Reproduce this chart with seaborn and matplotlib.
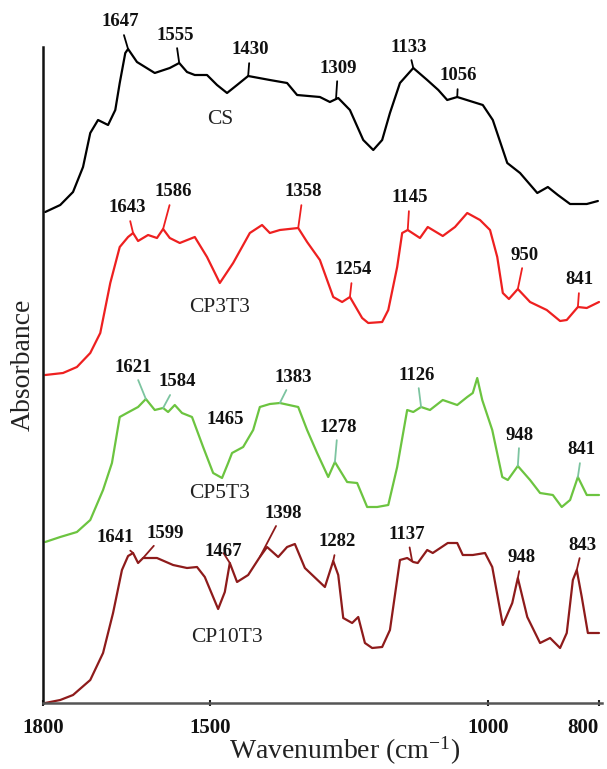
import numpy as np
import pandas as pd
import matplotlib
matplotlib.use("Agg")
import matplotlib.pyplot as plt
import seaborn as sns

# ---------------- data ----------------
samples = ["CS", "CP3T3", "CP5T3", "CP10T3"]

cs_wn = [1796, 1769, 1746, 1728, 1715, 1701, 1683, 1670, 1662, 1652, 1647, 1631, 1599, 1572, 1555,
         1541, 1527, 1505, 1487, 1469, 1451, 1431, 1392, 1361, 1343, 1302, 1284, 1269, 1248, 1224,
         1206, 1190, 1176, 1158, 1134, 1109, 1089, 1073, 1055, 1009, 991, 965, 942, 911, 892,
         874, 852, 822, 802]
cs_abs = [0.01, 0.08, 0.21, 0.46, 0.80, 0.93, 0.88, 1.03, 1.30, 1.60, 1.64, 1.51, 1.40, 1.45, 1.50,
          1.41, 1.38, 1.38, 1.28, 1.20, 1.28, 1.37, 1.33, 1.30, 1.18, 1.16, 1.11, 1.15, 1.03, 0.73,
          0.63, 0.73, 1.00, 1.30, 1.45, 1.33, 1.23, 1.13, 1.16, 1.08, 0.93, 0.50, 0.40, 0.20, 0.26,
          0.18, 0.09, 0.09, 0.12]

cp3_wn = [1796, 1764, 1739, 1715, 1697, 1679, 1662, 1647, 1638, 1629, 1611, 1595, 1584, 1572, 1554,
          1527, 1505, 1482, 1458, 1428, 1406, 1392, 1374, 1341, 1325, 1302, 1278, 1262, 1248, 1226,
          1215, 1190, 1179, 1163, 1154, 1144, 1122, 1108, 1081, 1059, 1037, 1014, 996, 983, 973,
          962, 946, 924, 894, 870, 858, 838, 822, 800]
cp3_abs = [0.03, 0.05, 0.11, 0.25, 0.45, 0.95, 1.31, 1.41, 1.45, 1.37, 1.43, 1.40, 1.49, 1.40, 1.35,
           1.41, 1.21, 0.95, 1.15, 1.45, 1.53, 1.45, 1.48, 1.50, 1.36, 1.18, 0.81, 0.76, 0.81, 0.60,
           0.55, 0.56, 0.68, 1.11, 1.45, 1.48, 1.40, 1.51, 1.42, 1.51, 1.65, 1.58, 1.48, 1.21, 0.85,
           0.79, 0.89, 0.76, 0.68, 0.57, 0.58, 0.71, 0.70, 0.76]

cp5_wn = [1796, 1769, 1739, 1715, 1692, 1676, 1662, 1649, 1629, 1615, 1599, 1584, 1575, 1563, 1550,
          1532, 1512, 1494, 1478, 1467, 1460, 1440, 1422, 1410, 1392, 1374, 1341, 1325, 1307, 1287,
          1275, 1253, 1235, 1217, 1199, 1179, 1163, 1145, 1134, 1120, 1104, 1081, 1055, 1037, 1027,
          1019, 1010, 992, 974, 964, 946, 924, 906, 883, 867, 852, 838, 822, 800]
cp5_abs = [0.01, 0.06, 0.11, 0.23, 0.53, 0.80, 1.26, 1.30, 1.36, 1.44, 1.33, 1.35, 1.31, 1.38, 1.30,
           1.26, 0.96, 0.70, 0.65, 0.80, 0.90, 0.96, 1.13, 1.36, 1.39, 1.40, 1.36, 1.13, 0.90, 0.66,
           0.81, 0.61, 0.60, 0.36, 0.36, 0.38, 0.76, 1.33, 1.31, 1.36, 1.33, 1.43, 1.38, 1.46, 1.50,
           1.65, 1.43, 1.13, 0.66, 0.63, 0.77, 0.63, 0.50, 0.48, 0.36, 0.43, 0.66, 0.48, 0.48]

cp10_wn = [1796, 1769, 1746, 1715, 1692, 1674, 1658, 1647, 1638, 1629, 1620, 1595, 1566, 1541, 1523,
           1509, 1485, 1473, 1464, 1451, 1431, 1410, 1397, 1377, 1361, 1347, 1329, 1293, 1278, 1269,
           1260, 1244, 1233, 1221, 1208, 1190, 1176, 1158, 1145, 1134, 1126, 1109, 1099, 1072, 1055,
           1045, 1027, 1005, 992, 973, 956, 946, 929, 906, 888, 870, 858, 847, 840, 831,
           820, 800]
cp10_abs = [0.00, 0.03, 0.08, 0.23, 0.50, 0.90, 1.33, 1.47, 1.50, 1.40, 1.45, 1.45, 1.38, 1.35, 1.36,
            1.26, 0.94, 1.11, 1.40, 1.21, 1.28, 1.46, 1.56, 1.46, 1.56, 1.59, 1.35, 1.16, 1.42, 1.28,
            0.85, 0.80, 0.86, 0.60, 0.55, 0.56, 0.73, 1.43, 1.45, 1.41, 1.40, 1.53, 1.50, 1.60, 1.60,
            1.48, 1.48, 1.50, 1.36, 0.78, 1.00, 1.25, 0.86, 0.60, 0.65, 0.55, 0.70, 1.23, 1.33, 1.06,
            0.70, 0.70]

# peak labels and the wavenumber where their leader touches the curve
cs_peak_labels = ["1647", "1555", "1430", "1309", "1133", "1056"]
cs_peak_wn = [1647, 1555, 1431, 1273, 1134, 1055]
cp3_peak_labels = ["1643", "1586", "1358", "1254", "1145", "950", "841"]
cp3_peak_wn = [1638, 1584, 1341, 1248, 1144, 946, 838]
cp5_peak_labels = ["1621", "1584", "1465", "1383", "1278", "1126", "948", "841"]
cp5_peak_wn = [1615, 1584, 1467, 1374, 1275, 1120, 946, 838]
cp10_peak_labels = ["1641", "1599", "1467", "1398", "1282", "1137", "948", "843"]
cp10_peak_wn = [1638, 1620, 1464, 1410, 1278, 1136, 946, 840]

xtick_values = [1800, 1500, 1000, 800]

# ---------------- layout / style ----------------
offsets = {"CS": 4.9, "CP3T3": 3.25, "CP5T3": 1.6, "CP10T3": 0.0}
line_colors = {"CS": "#000000", "CP3T3": "#ee2020", "CP5T3": "#6cc440", "CP10T3": "#8e1b1b"}
leader_colors = {"CS": "#000000", "CP3T3": "#ee2020", "CP5T3": "#7cc4a0", "CP10T3": "#8e1b1b"}
# text offsets (pixels) of each peak label from its anchor on the curve
label_offsets = {
    "CS": [(-8, 27), (-4, 28), (2, 26), (2, 31), (-5, 21), (1, 21)],
    "CP3T3": [(-6, 25), (10, 37), (5, 36), (3, 27), (2, 32), (7, 34), (2, 27)],
    "CP5T3": [(-13, 32), (14, 26), (-3, 43), (13, 26), (3, 35), (-4, 32), (2, 31), (4, 27)],
    "CP10T3": [(-18, 15), (22, 25), (-7, 11), (23, 44), (4, 19), (-5, 27), (4, 20), (6, 25)],
}
no_leader = {("CP5T3", "1465")}
name_pos = {"CS": (1482, 5.83), "CP3T3": (1482, 3.95), "CP5T3": (1482, 2.10), "CP10T3": (1469, 0.65)}

curves = {
    "CS": (cs_wn, cs_abs, cs_peak_labels, cs_peak_wn),
    "CP3T3": (cp3_wn, cp3_abs, cp3_peak_labels, cp3_peak_wn),
    "CP5T3": (cp5_wn, cp5_abs, cp5_peak_labels, cp5_peak_wn),
    "CP10T3": (cp10_wn, cp10_abs, cp10_peak_labels, cp10_peak_wn),
}

rows = []
for s in samples:
    wn, ab, _, _ = curves[s]
    for w, a in zip(wn, ab):
        rows.append({"sample": s, "wavenumber": w, "absorbance": a, "shifted": a + offsets[s]})
df = pd.DataFrame(rows)

sns.set_theme(style="white")
plt.rcParams["font.family"] = ["Liberation Serif", "DejaVu Serif"]
plt.rcParams["mathtext.default"] = "regular"

fig = plt.figure(figsize=(6.07, 7.69), dpi=100)
W, H = 607, 769
ax = fig.add_axes([43 / W, (H - 703) / H, (602 - 43) / W, (703 - 47) / H])

sns.lineplot(data=df, x="wavenumber", y="shifted", hue="sample", palette=line_colors,
             hue_order=samples, estimator=None, sort=False, legend=False, lw=1.6, ax=ax)
for ln in ax.lines:
    ln.set_clip_on(False)
    ln.set_solid_joinstyle("round")

ax.set_xlim(1800, 794.6)
ax.set_ylim(0, 6.56)

# peak annotations
for s in samples:
    wn, ab, labels, pwn = curves[s]
    xs = np.array(wn)[::-1]
    ys = np.array(ab)[::-1]
    for lab, pw, (dx, dy) in zip(labels, pwn, label_offsets[s]):
        yv = np.interp(pw, xs, ys) + offsets[s]
        kw = {}
        if (s, lab) not in no_leader:
            kw["arrowprops"] = dict(arrowstyle="-", color=leader_colors[s], lw=1.3,
                                    shrinkA=1, shrinkB=0)
        ax.annotate(lab, xy=(pw, yv), xytext=(dx, dy), textcoords="offset pixels",
                    ha="center", va="center", fontsize=13.5, fontweight="bold",
                    color="#111111", annotation_clip=False, **kw)
    nx, ny = name_pos[s]
    ax.text(nx, ny, s, ha="center", va="center", fontsize=15.5, color="#222222")

# axes styling
for side in ["top", "right"]:
    ax.spines[side].set_visible(False)
ax.spines["left"].set_color("#111111")
ax.spines["left"].set_linewidth(1.8)
ax.spines["bottom"].set_color("#555555")
ax.spines["bottom"].set_linewidth(1.8)

ax.set_xticks(xtick_values)
ax.set_xticklabels([str(v) for v in xtick_values], fontsize=15, fontweight="bold", color="#111111")
ax.get_xticklabels()[-1].set_horizontalalignment("right")
ax.tick_params(axis="x", direction="inout", length=5, width=1.5, color="#222222", pad=8, bottom=True)
ax.set_yticks([])

ax.set_xlabel("Wavenumber (cm$^{-1}$)", fontsize=20, color="#222222", va="center")
ax.xaxis.set_label_coords((345 - 43) / 559, (703 - 751) / 656)
ax.set_ylabel("Absorbance", fontsize=20, color="#222222", va="center", ha="center")
ax.yaxis.set_label_coords((23 - 43) / 559, (703 - 365) / 656)

fig.savefig("out.png", dpi=100)
